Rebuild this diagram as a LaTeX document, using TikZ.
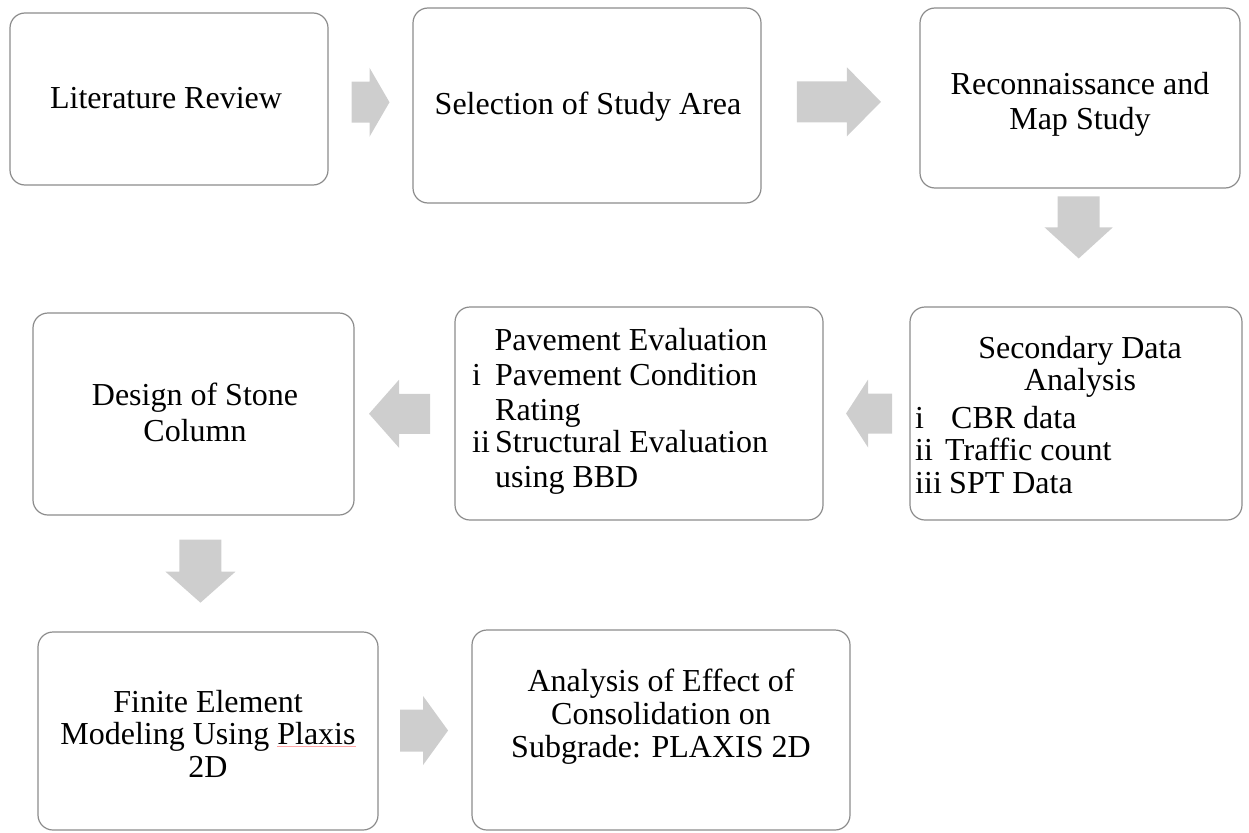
\documentclass[tikz,border=0pt]{standalone}
\usepackage{fontspec}
\setmainfont{Liberation Serif}
\usetikzlibrary{calc}
\definecolor{boxline}{RGB}{140,140,140}
\definecolor{arrowgray}{RGB}{206,206,206}
\tikzset{
  pics/blockarrow/.style n args={4}{code={
    \fill[arrowgray] (-#1/2,-#3/2) -- ({#1/2-#2},-#3/2) -- ({#1/2-#2},-#4/2) -- (#1/2,0)
      -- ({#1/2-#2},#4/2) -- ({#1/2-#2},#3/2) -- (-#1/2,#3/2) -- cycle;}}
}
\begin{document}
\begin{tikzpicture}[x=1pt,y=-1pt,
  box/.style={draw=boxline, line width=1.2pt, rounded corners=15pt, inner sep=0pt, fill=white},
  txt/.style={inner sep=0pt, anchor=base, font=\fontsize{32}{34}\selectfont},
  ltxt/.style={txt, anchor=base west}]
\useasboundingbox (0,0) rectangle (1249,832);

% boxes
\node[box, minimum width=318pt, minimum height=172pt] (lr)  at (169,99) {};
\node[box, minimum width=348pt, minimum height=195pt] (sel) at (587,105.5) {};
\node[box, minimum width=320pt, minimum height=180pt] (rec) at (1080,98) {};
\node[box, minimum width=332pt, minimum height=213pt] (sec) at (1076,413.5) {};
\node[box, minimum width=368pt, minimum height=213pt] (pav) at (639,413.5) {};
\node[box, minimum width=321pt, minimum height=202pt] (des) at (193.5,414) {};
\node[box, minimum width=340pt, minimum height=198pt] (fe)  at (208,731) {};
\node[box, minimum width=378pt, minimum height=200pt] (ana) at (661,730) {};

% block arrows
\coordinate (a1) at ($(lr.east)!0.5!(sel.west)$);
\coordinate (a2) at ($(sel.east)!0.49!(rec.west)$);
\coordinate (a3) at ($(rec.south)!0.33!(sec.north)$);
\coordinate (a4) at ($(sec.west)!0.47!(pav.east)$);
\coordinate (a5) at ($(pav.west)!0.55!(des.east)$);
\coordinate (a6) at ($(des.south)!0.48!(fe.north)$);
\coordinate (a7) at ($(fe.east)!0.49!(ana.west)$);
\pic at (a1) {blockarrow={38}{20}{41}{69}};
\pic at (a2) {blockarrow={84}{34}{41}{69}};
\pic[rotate=-90] at (a3) {blockarrow={62}{31}{42}{68}};
\pic[rotate=180] at (a4) {blockarrow={46}{22}{40}{68}};
\pic[rotate=180] at (a5) {blockarrow={61}{30}{40}{68}};
\pic[rotate=-90] at (a6) {blockarrow={63}{31}{42}{70}};
\pic at (a7) {blockarrow={48}{25}{42}{69}};

% texts
\node[txt] (t1) at (166,109) {Literature Review};
\node[txt] (t2) at (588,114) {Selection of Study Area};
\node[txt] (t3a) at (1080,95) {Reconnaissance and};
\node[txt] (t3b) at (1080,129) {Map Study};

\node[txt] (t4a) at (1080,358) {Secondary Data};
\node[txt] (t4b) at (1080,390) {Analysis};
\node[ltxt] (t4c) at (915,428) {i};
\node[ltxt] (t4c2) at (951,428) {CBR data};
\node[ltxt] (t4d) at (915,460) {ii};
\node[ltxt] (t4d2) at (945,460) {Traffic count};
\node[ltxt] (t4e) at (915,493) {iii};
\node[ltxt] (t4e2) at (949,493) {SPT Data};

\node[txt] (t5a) at (631,350) {Pavement Evaluation};
\node[ltxt] (t5b) at (472,385) {i};
\node[ltxt] (t5b2) at (495,385) {Pavement Condition};
\node[ltxt] (t5c) at (495,420) {Rating};
\node[ltxt] (t5d) at (472,452) {ii};
\node[ltxt] (t5d2) at (495,452) {Structural Evaluation};
\node[ltxt] (t5e) at (495,487) {using BBD};

\node[txt] (t6a) at (195,405) {Design of Stone};
\node[txt] (t6b) at (195,441) {Column};

\node[txt] (t7a) at (208,712) {Finite Element};
\node[txt] (t7b) at (208,744) {Modeling Using {\color{red!35}$\underline{\hbox{\color{black}Plaxis}}$}};
\node[txt] (t7c) at (208,777) {2D};

\node[txt] (t8a) at (661,691) {Analysis of Effect of};
\node[txt] (t8b) at (661,724) {Consolidation on};
\node[txt] (t8c) at (661,757) {Subgrade: PLAXIS 2D};
\end{tikzpicture}
\end{document}
